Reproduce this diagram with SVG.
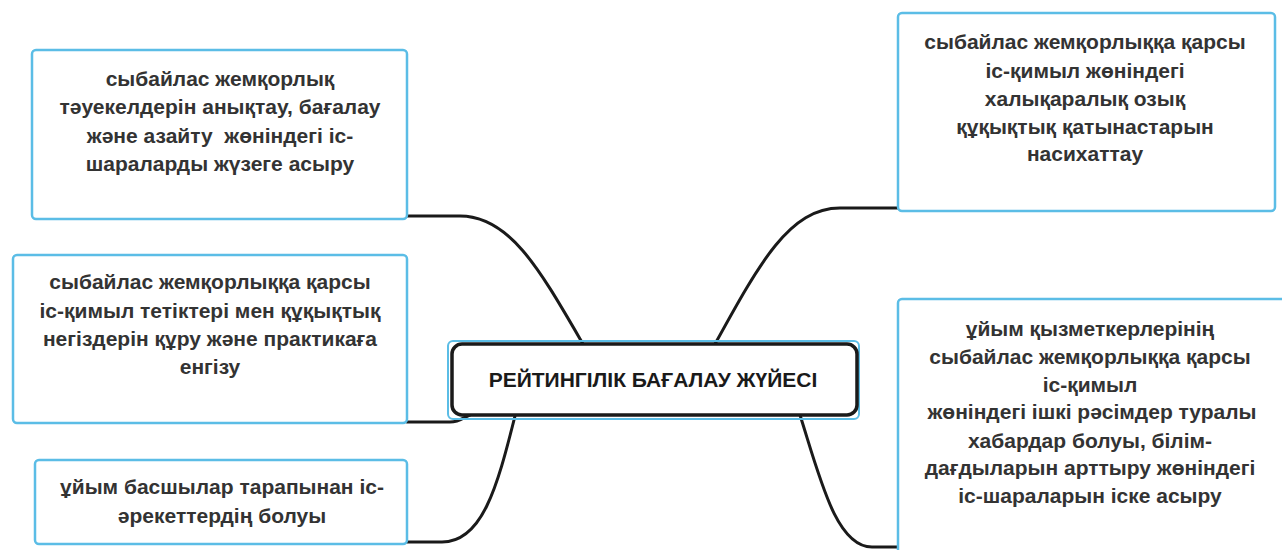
<svg xmlns="http://www.w3.org/2000/svg" width="1282" height="550" viewBox="0 0 1282 550">
  <style>
    .box { fill: #ffffff; stroke: #5bbde6; stroke-width: 2.5; }
    .t { font-family: "Liberation Sans", Arial, sans-serif; font-weight: bold; font-size: 21px; fill: #333333; text-anchor: middle; }
    .ct { font-family: "Liberation Sans", Arial, sans-serif; font-weight: bold; font-size: 21px; fill: #1a1a1a; text-anchor: middle; }
    .conn { fill: none; stroke: #1a1a1a; stroke-width: 3; stroke-linecap: round; }
  </style>
  <rect width="1282" height="550" fill="#ffffff"/>

  <g id="connectors">
    <path class="conn" d="M407,216 L460,216 C510,216 540,270 583,344"/>
    <path class="conn" d="M715,344 C760,262 790,208 840,208 L900,208"/>
    <path class="conn" d="M407,422 L450,422 C460,422 464,417 470,415"/>
    <path class="conn" d="M515,416 C497,488 482,542 442,542 L407,542"/>
    <path class="conn" d="M800,415 C820,478 836,547 872,547 L900,547"/>
  </g>

  <g id="node-center">
    <rect x="448" y="341" width="411" height="78" rx="5" fill="none" stroke="#5bbde6" stroke-width="2"/>
    <rect x="452" y="344" width="405" height="71" rx="10" fill="#ffffff" stroke="#1a1a1a" stroke-width="3.5"/>
    <text class="ct" x="653" y="387">РЕЙТИНГІЛІК БАҒАЛАУ ЖҮЙЕСІ</text>
  </g>

  <g id="node-risk">
    <rect class="box" x="32" y="50" width="375" height="169" rx="4"/>
    <text class="t" x="220" y="86">сыбайлас жемқорлық</text>
    <text class="t" x="220" y="114">тәуекелдерін анықтау, бағалау</text>
    <text class="t" x="220" y="143" xml:space="preserve">және азайту  жөніндегі іс-</text>
    <text class="t" x="220" y="171">шараларды жүзеге асыру</text>
  </g>

  <g id="node-mechanisms">
    <rect class="box" x="13" y="255" width="394" height="168" rx="4"/>
    <text class="t" x="210" y="289">сыбайлас жемқорлыққа қарсы</text>
    <text class="t" x="210" y="318">іс-қимыл тетіктері мен құқықтық</text>
    <text class="t" x="210" y="346">негіздерін құру және практикаға</text>
    <text class="t" x="210" y="374">енгізу</text>
  </g>

  <g id="node-leaders">
    <rect class="box" x="35" y="460" width="372" height="84" rx="4"/>
    <text class="t" x="222" y="494">ұйым басшылар тарапынан іс-</text>
    <text class="t" x="222" y="523">әрекеттердің болуы</text>
  </g>

  <g id="node-international">
    <rect class="box" x="898" y="13" width="377" height="198" rx="4"/>
    <text class="t" x="1085" y="49">сыбайлас жемқорлыққа қарсы</text>
    <text class="t" x="1085" y="78">іс-қимыл жөніндегі</text>
    <text class="t" x="1085" y="106">халықаралық озық</text>
    <text class="t" x="1085" y="134">құқықтық қатынастарын</text>
    <text class="t" x="1085" y="161">насихаттау</text>
  </g>

  <g id="node-employees">
    <rect class="box" x="898" y="299" width="400" height="300" rx="4"/>
    <text class="t" x="1090" y="336">ұйым қызметкерлерінің</text>
    <text class="t" x="1090" y="364">сыбайлас жемқорлыққа қарсы</text>
    <text class="t" x="1090" y="392">іс-қимыл</text>
    <text class="t" x="1092" y="419">жөніндегі ішкі рәсімдер туралы</text>
    <text class="t" x="1090" y="448">хабардар болуы, білім-</text>
    <text class="t" x="1090" y="475">дағдыларын арттыру жөніндегі</text>
    <text class="t" x="1090" y="503">іс-шараларын іске асыру</text>
  </g>
</svg>
